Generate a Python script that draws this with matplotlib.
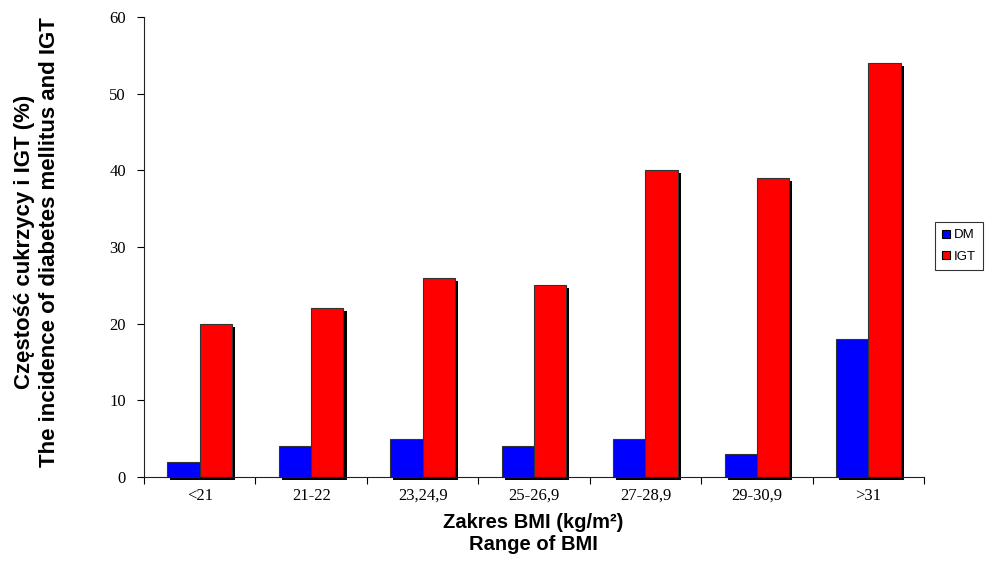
import numpy as np
import matplotlib.pyplot as plt
import matplotlib.patheffects as pe

# BMI ranges and incidence (%) of diabetes mellitus (DM) and IGT
categories = ['<21', '21-22', '23,24,9', '25-26,9', '27-28,9', '29-30,9', '>31']
dm = [2, 4, 5, 4, 5, 3, 18]
igt = [20, 22, 26, 25, 40, 39, 54]

fig = plt.figure(figsize=(9.87, 5.67), dpi=100)
ax = fig.add_axes([0.1459, 0.1587, 0.7903, 0.8113])

x = np.arange(len(categories))
w = 0.29
shadow = [pe.SimplePatchShadow(offset=(2.2, -2.2), shadow_rgbFace='black', alpha=1.0), pe.Normal()]

b1 = ax.bar(x - w / 2, dm, w, color='#0000ff', edgecolor='#333333', linewidth=0.8,
            label='DM', clip_on=False)
b2 = ax.bar(x + w / 2, igt, w, color='#ff0000', edgecolor='#333333', linewidth=0.8,
            label='IGT', clip_on=False)
for bar in list(b1) + list(b2):
    bar.set_path_effects(shadow)

ax.set_xlim(-0.5, len(categories) - 0.5)
ax.set_ylim(0, 60)
ax.set_yticks(range(0, 61, 10))
ax.set_xticks(np.arange(-0.5, len(categories), 1.0))
ax.set_xticklabels([])
ax.set_xticks(x, minor=True)
ax.set_xticklabels(categories, minor=True)
ax.tick_params(axis='x', which='minor', length=0, pad=8)
ax.tick_params(axis='x', which='major', length=5, direction='out')
ax.tick_params(axis='y', length=5, direction='out', pad=8)

for lab in ax.get_xticklabels(minor=True) + ax.get_yticklabels():
    lab.set_fontfamily('Liberation Serif')
    lab.set_fontsize(12)

ax.spines['top'].set_visible(False)
ax.spines['right'].set_visible(False)
ax.spines['left'].set_color('#222222')
ax.spines['bottom'].set_color('#222222')

fig.text(0.54, 0.059, 'Zakres BMI (kg/m²)\nRange of BMI', ha='center', va='center',
         fontsize=14.5, fontweight='bold', family='Liberation Sans', linespacing=1.2)
fig.text(0.037, 0.573, 'Częstość cukrzycy i IGT (%)\nThe incidence of diabetes mellitus and IGT',
         ha='center', va='center', rotation=90, fontsize=16, fontweight='bold',
         family='Liberation Sans', linespacing=1.25)

leg = fig.legend(handles=[b1, b2], loc='center', bbox_to_anchor=(0.9715, 0.566),
                 prop={'family': 'Liberation Sans', 'size': 9.5}, frameon=True,
                 fancybox=False, handlelength=0.6, handleheight=0.6, handletextpad=0.3,
                 borderpad=0.55, labelspacing=0.7, borderaxespad=0)
leg.get_frame().set_edgecolor('black')
leg.get_frame().set_linewidth(0.8)
for h in leg.legend_handles:
    h.set_path_effects([])
    h.set_edgecolor('black')

fig.savefig('out.png', dpi=100)
